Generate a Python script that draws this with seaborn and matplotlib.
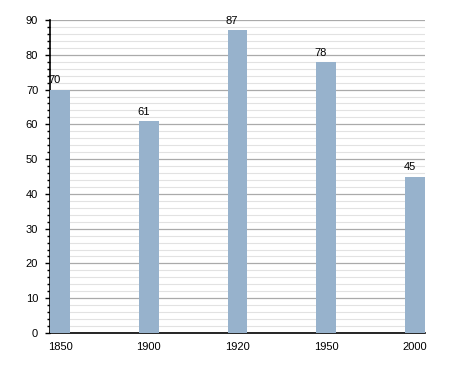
import matplotlib
matplotlib.use("Agg")
import matplotlib.pyplot as plt
import seaborn as sns
import pandas as pd
from matplotlib.ticker import MultipleLocator

years = ["1850", "1900", "1920", "1950", "2000"]
values = [70, 61, 87, 78, 45]

sns.set_style("white")
plt.rcParams['font.family'] = ['Liberation Sans', 'DejaVu Sans']
plt.rcParams['text.color'] = 'black'

df = pd.DataFrame({"year": years, "value": values})

fig = plt.figure(figsize=(4.55, 3.73), dpi=100)
ax = fig.add_axes([50/455, 40/373, 375/455, 313/373])

w = 0.225
sns.barplot(data=df, x="year", y="value", color="#97b2cc", saturation=1,
            width=w, ax=ax, zorder=3, edgecolor="none", linewidth=0)

ax.set_xlim(-w/2, len(years) - 1 + w/2)
ax.set_ylim(0, 90)
ax.yaxis.set_major_locator(MultipleLocator(10))
ax.yaxis.set_minor_locator(MultipleLocator(2))
ax.grid(which="major", axis="y", color="#aaaaaa", linewidth=0.9, zorder=0)
ax.grid(which="minor", axis="y", color="#e2e2e2", linewidth=0.8, zorder=0)
ax.set_axisbelow(True)

for s in ["top", "right"]:
    ax.spines[s].set_visible(False)
ax.spines["left"].set_color("black")
ax.spines["bottom"].set_color("black")
ax.spines["left"].set_linewidth(1.2)
ax.spines["bottom"].set_linewidth(1.2)

ax.tick_params(axis="y", which="major", left=True, length=3.5, width=1, labelsize=8, pad=5, colors="black")
ax.tick_params(axis="y", which="minor", left=True, length=2, width=1, colors="black")
ax.tick_params(axis="x", bottom=False, labelsize=8, pad=3, colors="black")
ax.set_xlabel("")
ax.set_ylabel("")

for i, v in enumerate(values):
    ax.text(i - w/2 - 0.02, v + 1.2, str(v), ha="left", va="bottom", fontsize=8, color="black")

fig.savefig("out.png", dpi=100)
